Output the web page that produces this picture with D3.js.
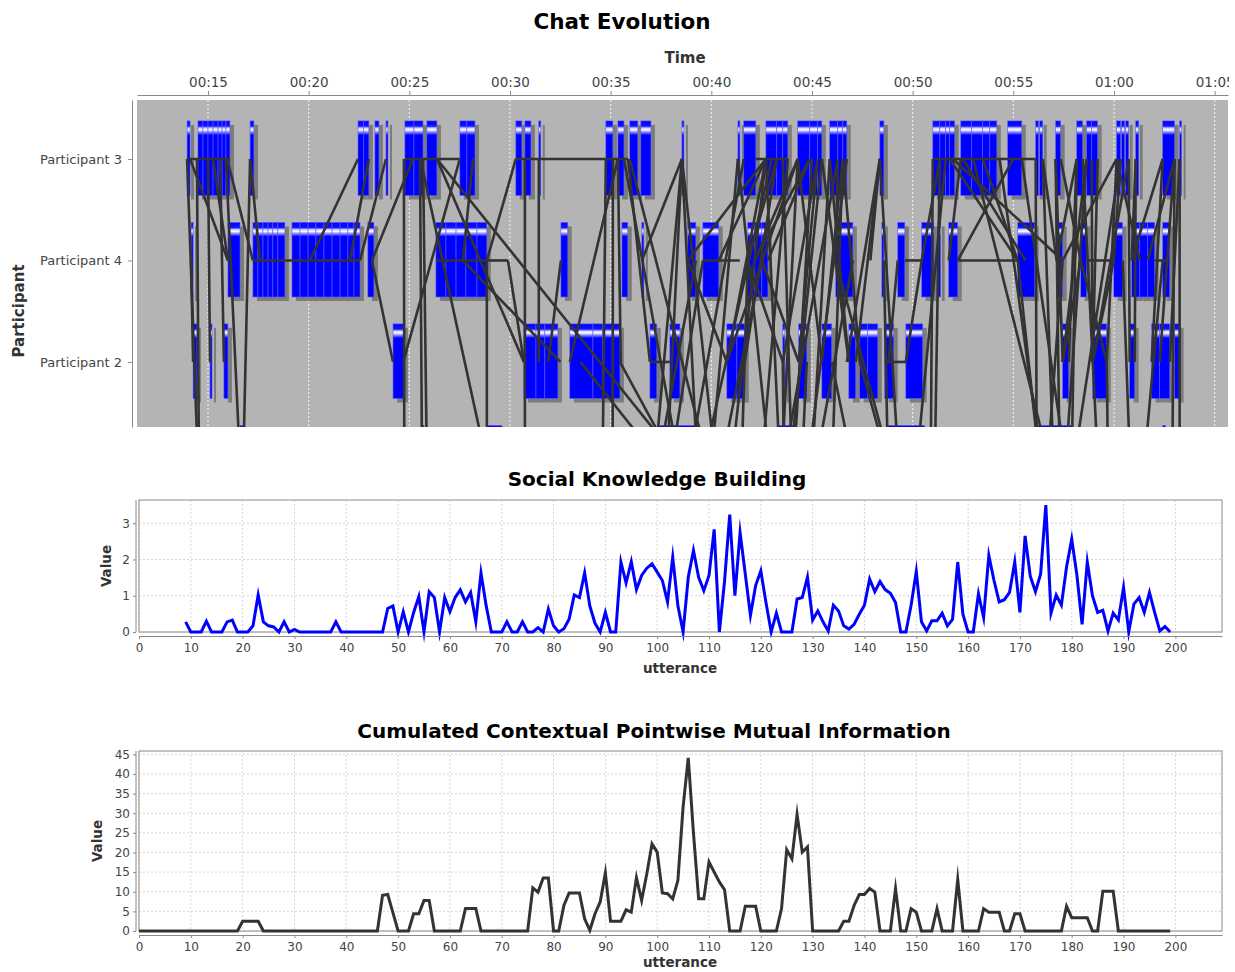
<!DOCTYPE html>
<html><head><meta charset="utf-8">
<script src="https://cdn.jsdelivr.net/npm/d3@7"></script>
<style>body{margin:0;background:#fff;overflow:hidden}</style>
</head><body><svg id="c" width="1235" height="972"></svg>
<script>
// ---------------- DATA ----------------
const participants = ["Participant 3","Participant 4","Participant 2","Participant 1"];
const participantIds = [3,4,2,1];
const timeTicks = [15,20,25,30,35,40,45,50,55,60,65]; // minutes

// utterance intervals [start, end] in minutes
const barsP3 = [[13.96,14.11],[14.50,14.75],[14.75,15.00],[15.00,15.25],[15.25,15.50],[15.50,15.70],[15.70,15.89],[15.89,16.09],
 [17.09,17.28],[22.45,22.72],[22.72,22.99],[23.29,23.49],[23.84,23.89],[24.78,25.23],[25.23,25.68],[25.87,26.37],
 [27.51,27.86],[27.86,28.26],[30.29,30.59],[30.74,31.04],[31.43,31.49],[34.76,35.11],[35.36,35.66],[35.95,36.35],
 [36.50,37.00],[38.54,38.63],[41.32,41.42],[41.61,42.21],[42.71,43.25],[43.25,43.55],[43.55,43.80],[44.29,44.89],
 [44.89,45.28],[45.28,45.49],[45.88,46.28],[46.28,46.53],[46.53,46.73],[48.37,48.57],[51.00,51.35],[51.35,51.64],
 [51.64,51.84],[51.84,52.09],[52.39,52.93],[52.93,53.48],[53.48,53.83],[53.83,54.18],[54.72,55.42],[56.11,56.26],
 [56.31,56.46],[57.10,57.35],[58.15,58.44],[58.64,58.89],[58.89,59.19],[60.13,60.33],[60.38,60.53],[60.58,60.73],
 [61.08,61.23],[62.42,63.01],[63.26,63.36]];
const barsP4 = [[14.16,14.26],[15.99,16.59],[17.23,17.48],[17.48,17.73],[17.73,17.98],[17.98,18.22],[18.22,18.47],[18.47,18.82],
 [19.17,19.57],[19.57,19.97],[19.97,20.36],[20.36,20.76],[20.76,21.16],[21.16,21.56],[21.56,21.95],[21.95,22.25],[22.25,22.55],
 [22.94,23.24],[26.32,26.82],[26.82,27.32],[27.32,27.81],[27.81,28.36],[28.36,28.85],[32.53,32.87],[35.56,35.85],
 [36.55,36.65],[38.83,39.23],[39.58,40.37],[41.81,42.16],[42.16,42.51],[42.51,42.81],[46.18,47.03],[48.47,48.57],
 [49.26,49.61],[50.45,51.05],[51.25,51.39],[51.79,52.24],[55.22,56.06],[57.15,57.45],[58.35,58.64],[59.99,60.43],
 [60.88,61.28],[61.28,61.67],[61.67,62.02],[62.42,62.77]];
const barsP2 = [[14.26,14.45],[15.10,15.20],[15.79,15.99],[24.19,24.73],[30.69,31.29],[31.29,31.73],[31.73,32.38],
 [32.97,34.12],[34.12,34.61],[34.61,35.46],[36.95,37.29],[37.94,38.44],[40.77,41.27],[41.27,41.66],[43.55,43.65],
 [44.34,44.74],[45.49,45.98],[46.83,47.17],[47.37,47.77],[47.77,48.27],[48.61,49.06],[49.66,50.50],[57.45,57.75],
 [58.94,59.64],[60.78,61.03],[61.87,62.27],[62.27,62.77],[63.01,63.26]];
const barsP1 = [[16.59,16.84],[25.63,25.73],[28.85,29.60],[37.34,39.43],[43.30,44.15],[48.76,50.60],[56.16,57.95],[62.42,62.57]];

// reply links [fromTime, fromParticipant, toTime, toParticipant]
const links = [
 [13.96,3,16.09,3],[13.96,3,14.50,1],[14.11,3,15.99,4],[14.45,3,14.55,1],[14.16,4,14.26,2],[15.00,3,15.10,2],
 [15.25,3,15.99,4],[15.60,3,15.79,2],[15.89,3,16.59,1],[15.95,3,17.23,4],[17.09,3,17.58,4],[17.09,3,16.75,1],
 [17.23,4,22.55,4],[20.06,4,22.45,3],[22.05,4,22.99,3],[22.55,4,23.84,3],[23.14,4,25.18,3],[23.14,4,24.19,2],
 [24.70,2,27.51,3],[24.78,3,27.51,3],[24.73,3,24.75,1],[25.53,3,25.63,1],[25.68,3,25.87,1],[25.55,3,28.85,1],
 [26.37,3,30.69,2],[26.32,4,28.85,4],[27.66,4,28.16,3],[27.66,4,32.50,2],[28.85,4,28.85,1],[28.85,4,29.90,4],
 [28.85,4,30.29,3],[26.37,3,38.50,1],
 [30.29,3,35.86,3],[29.90,4,30.69,2],[30.74,3,30.74,1],[31.43,3,31.43,2],[32.53,4,31.90,2],[34.76,3,34.60,1],
 [35.11,3,35.10,1],[35.36,3,35.50,2],[35.66,3,38.40,1],[35.95,3,39.85,1],[35.86,3,36.95,2],[36.95,2,37.94,2],
 [38.54,3,37.20,1],[38.54,3,37.80,1],[38.54,3,39.30,1],[38.54,3,40.20,1],[39.58,4,41.41,4],[42.21,3,43.80,3],
 [38.83,4,40.77,2],[39.23,4,37.35,1],[40.77,2,42.71,3],[41.32,3,40.00,1],[41.61,3,38.90,1],[41.81,4,43.55,2],
 [42.16,4,44.29,3],[42.71,3,41.00,1],[42.71,3,43.40,1],[43.00,3,39.60,1],[43.25,3,41.81,4],[43.55,3,44.00,1],
 [43.55,2,45.28,3],[44.29,3,43.50,1],[44.29,3,45.49,2],[44.34,2,42.51,4],[44.89,3,42.16,4],[45.00,3,44.10,1],
 [45.28,3,44.34,2],[45.49,3,46.83,2],[45.49,2,46.53,3],[45.88,3,45.00,1],[46.28,3,43.60,1],[46.28,3,46.18,4],
 [46.53,3,47.37,2],[46.18,4,48.90,1],[46.83,2,45.88,3],[47.37,2,48.77,1],[48.37,3,46.73,2],[48.37,3,47.90,4],
 [48.37,3,49.30,1],
 [39.58,4,38.00,1],[40.37,4,42.71,3],[41.66,2,43.25,3],[41.32,3,42.90,1],[42.51,4,40.50,1],[42.81,4,44.89,3],
 [43.80,3,42.50,1],[44.74,2,44.50,1],[45.49,3,43.90,1],[45.98,2,47.00,1],[46.73,3,44.80,1],[46.53,3,46.00,1],
 [47.03,4,45.20,1],[47.17,2,48.37,3],[44.29,3,40.77,2],[43.55,2,43.60,1],[41.81,4,41.50,1],[42.71,3,38.83,4],
 [33.50,2,37.50,1],[35.46,2,38.20,1],[32.97,2,35.36,3],[36.55,4,38.54,3],
 [49.61,4,50.45,4],[48.61,2,49.66,2],[48.57,4,48.77,1],[49.26,4,48.80,2],[50.45,4,49.66,2],[51.00,3,56.11,3],
 [51.00,3,50.90,1],[51.35,3,51.10,1],[51.64,3,50.20,1],[50.45,4,51.35,3],[51.79,4,52.39,3],[51.84,3,55.22,4],
 [52.00,3,57.45,4],[52.24,4,55.22,4],[53.48,3,55.22,4],[54.32,3,56.40,1],[55.22,4,56.30,1],[56.11,3,56.16,1],
 [56.46,3,57.00,1],[57.10,3,57.45,2],[57.10,3,57.30,1],[57.15,4,58.15,3],[57.45,2,58.64,3],[58.15,3,57.90,1],
 [58.35,4,59.64,2],[58.64,3,57.60,1],[58.89,3,58.94,2],[58.35,4,57.45,2],[58.64,4,59.99,4],[60.13,3,57.45,4],
 [60.33,3,59.99,4],[60.33,3,58.00,1],[60.73,3,60.78,2],[61.08,3,60.88,4],[60.88,4,62.42,3],[62.42,3,61.87,2],
 [62.02,4,62.77,4],[63.01,3,62.90,1],[63.26,3,63.26,1],[62.27,2,63.01,3],[59.64,2,60.13,3],
 [57.35,3,58.35,4],[57.75,2,58.15,3],[58.44,3,59.20,1],[59.19,3,58.94,2],[59.64,2,59.70,1],[60.43,4,60.80,1],
 [61.03,2,61.08,3],[61.28,4,60.13,3],[61.67,4,63.01,3],[62.77,2,63.26,3],[62.42,4,61.50,1],[59.99,4,58.94,2],
 [58.94,2,60.73,3],[56.46,3,57.15,4],[57.45,4,56.70,1],[55.42,3,57.60,1],[55.00,3,52.24,4],[53.00,3,56.80,1],
 [52.50,3,55.60,4]];

// Social Knowledge Building, utterances 9..199
const skbFirstUtterance = 9;
const skbValues = [0.28,0,0,0,0.3,0,0,0,0.28,0.33,0,0,0,0.17,1.02,0.28,0.17,0.14,0,0.28,0,0.07,
 0,0,0,0,0,0,0,0.28,0,0,0,0,0,0,0,0,0,0.65,0.72,0,0.56,0,0.54,0.98,0,1.11,0.95,0,0.95,0.56,0.95,1.16,0.83,1.09,
 0.28,1.63,0.72,0,0,0,0.28,0,0,0.28,0,0,0.12,0,0.63,0.17,0,0.09,0.35,1.02,0.95,1.63,0.72,0.24,0,0.54,0,0,
 1.93,1.35,1.94,1.17,1.56,1.76,1.88,1.65,1.42,0.83,2.06,0.72,0,1.51,2.25,1.51,1.14,1.56,2.83,0,1.4,3.24,1.0,
 2.74,1.6,0.46,1.28,1.69,0.81,0,0.52,0,0,0,0.91,0.95,1.51,0.33,0.58,0.28,0.03,0.74,0.58,0.17,0.08,0.21,0.49,
 0.74,1.46,1.11,1.39,1.17,1.07,0.81,0,0,0.74,1.67,0.28,0.03,0.31,0.31,0.52,0.17,0.35,1.93,0.49,0,0,1.05,0.4,
 2.11,1.42,0.83,0.89,1.09,1.93,0.54,2.65,1.54,1.11,1.6,3.5,0.52,1.02,0.74,1.79,2.56,1.57,0.21,1.93,1.0,0.54,
 0.6,0.03,0.52,0.33,1.23,0,0.77,0.95,0.54,1.09,0.54,0.03,0.15,0];
const skbYTicks = [0,1,2,3];

// Cumulated Contextual PMI, utterances 0..199
const cpmiFirstUtterance = 0;
const cpmiValues = [0,0,0,0,0,0,0,0,0,0,0,0,0,0,0,0,0,0,0,0,
 2.5,2.5,2.5,2.5,0,0,0,0,0,0,0,0,0,0,0,0,0,0,0,0,0,0,0,0,0,0,0,
 9.1,9.3,4.7,0,0,0,4.4,4.4,7.8,7.8,0,0,0,0,0,0,5.7,5.7,5.7,0,0,0,0,0,0,0,0,0,0,
 11.0,9.9,13.5,13.5,0,0,6.5,9.7,9.7,9.7,3.1,0.2,4.4,7.4,14.8,2.5,2.5,2.5,5.4,4.8,13.6,7.8,14.6,22.2,
 20.1,9.7,9.5,8.2,12.9,31.6,44.1,25.0,8.2,8.2,17.6,15.0,12.5,10.5,0,0,0,6.3,6.3,6.3,0,0,0,0,5.7,
 20.7,18.4,29.7,20.1,21.4,0,0,0,0,0,0,2.5,2.5,6.5,9.3,9.3,10.8,9.9,0,0,0,10.8,0,0,5.7,4.8,0,0,0,
 5.7,0,0,0,13.1,0,0,0,0,5.7,4.8,4.8,4.8,0,0,4.4,4.4,0,0,0,0,0,0,0,0,6.3,3.4,3.4,3.4,3.4,0,0,
 10.1,10.1,10.1,0,0,0,0,0,0,0,0,0,0,0];
const cpmiYTicks = [0,5,10,15,20,25,30,35,40,45];
const utteranceTicks = [0,10,20,30,40,50,60,70,80,90,100,110,120,130,140,150,160,170,180,190,200];

// ---------------- DRAW ----------------
const FONT = '"DejaVu Sans", Verdana, sans-serif';
const svg = d3.select("#c").style("font-family", FONT);
const defs = svg.append("defs");
const grad = defs.append("linearGradient").attr("id","barGrad").attr("x1",0).attr("y1",0).attr("x2",0).attr("y2",1);
[[0,"#0000ff"],[0.07,"#1414ff"],[0.095,"#c8c8ff"],[0.12,"#ffffff"],[0.15,"#8c8cff"],[0.19,"#0000ff"],[1,"#0000ff"]]
  .forEach(([o,c]) => grad.append("stop").attr("offset",o).attr("stop-color",c));
defs.append("clipPath").attr("id","clipTop").append("rect").attr("x",137).attr("y",100).attr("width",1091).attr("height",327);
defs.append("clipPath").attr("id","clipTopAxis").append("rect").attr("x",0).attr("y",0).attr("width",1229).attr("height",100);

function styleAxis(g, size){
  g.select(".domain").attr("stroke","#8a8a8a");
  g.selectAll(".tick line").attr("stroke","#8a8a8a");
  g.selectAll(".tick text").attr("fill","#444").style("font-size", size+"px").style("font-family", FONT);
}
const fmtTime = t => { const h=Math.floor(t/60), m=t%60; return String(h).padStart(2,"0")+":"+String(m).padStart(2,"0"); };

// ---- Chat Evolution ----
svg.append("text").attr("x",622).attr("y",29).attr("text-anchor","middle")
  .style("font-size","21.5px").style("font-weight","bold").text("Chat Evolution");

const xT = d3.scaleLinear().domain([11.473, 65.663]).range([137, 1228]);
const yT = d3.scaleLinear().domain([-0.581, 2.641]).range([100, 427]);
const rowOf = p => participantIds.indexOf(p);

svg.append("rect").attr("x",137).attr("y",100).attr("width",1091).attr("height",327).attr("fill","#b4b4b4");
svg.append("g").selectAll("line").data(timeTicks).join("line")
  .attr("x1",d=>xT(d)).attr("x2",d=>xT(d)).attr("y1",100).attr("y2",427)
  .attr("stroke","#f4f4f4").attr("stroke-width",1).attr("stroke-dasharray","2,2");

const plotT = svg.append("g").attr("clip-path","url(#clipTop)");
const barSets = [[3,barsP3],[4,barsP4],[2,barsP2],[1,barsP1]];
const barRows = barSets.flatMap(([p,arr]) => arr.map(b => ({p, s:b[0], e:b[1]})));
const bh = yT(0.36) - yT(-0.375);
plotT.append("g").selectAll("rect").data(barRows).join("rect")
  .attr("x",d=>xT(d.s)+4).attr("y",d=>yT(rowOf(d.p)-0.375)+4)
  .attr("width",d=>Math.max(2,xT(d.e)-xT(d.s))).attr("height",bh).attr("fill","#7c7c7c");
plotT.append("g").selectAll("rect").data(barRows).join("rect")
  .attr("x",d=>xT(d.s)).attr("y",d=>yT(rowOf(d.p)-0.375))
  .attr("width",d=>Math.max(2,xT(d.e)-xT(d.s))).attr("height",bh).attr("fill","url(#barGrad)")
  .attr("stroke","#5c5cff").attr("stroke-width",0.6);
plotT.append("g").selectAll("line").data(links).join("line")
  .attr("x1",d=>xT(d[0])).attr("y1",d=>yT(rowOf(d[1])))
  .attr("x2",d=>xT(d[2])).attr("y2",d=>yT(rowOf(d[3])))
  .attr("stroke","#333").attr("stroke-width",2.6);

const axTop = svg.append("g").attr("clip-path","url(#clipTopAxis)").append("g").attr("transform","translate(0,95)")
  .call(d3.axisTop(xT).tickValues(timeTicks).tickFormat(fmtTime).tickSize(4).tickSizeOuter(0).tickPadding(4));
styleAxis(axTop, 13.5);
const axLeftT = svg.append("g").attr("transform","translate(132,0)")
  .call(d3.axisLeft(yT).tickValues([0,1,2]).tickFormat(i=>participants[i]).tickSize(4).tickSizeOuter(0).tickPadding(6));
styleAxis(axLeftT, 13);
svg.append("text").attr("x",685).attr("y",63).attr("text-anchor","middle")
  .style("font-size","15px").style("font-weight","bold").attr("fill","#333").text("Time");
svg.append("text").attr("transform","translate(24,311) rotate(-90)").attr("text-anchor","middle")
  .style("font-size","15px").style("font-weight","bold").attr("fill","#333").text("Participant");

// ---- line charts ----
function lineChart(o){
  const x = d3.scaleLinear().domain([0,209]).range([139,1222]);
  const y = d3.scaleLinear().domain([0,o.yMax]).range([o.bottom,o.top]);
  svg.append("text").attr("x",o.titleX).attr("y",o.titleY).attr("text-anchor","middle")
    .style("font-size","20px").style("font-weight","bold").text(o.title);
  svg.append("rect").attr("x",139).attr("y",o.top).attr("width",1222-139).attr("height",o.bottom-o.top).attr("fill","#fff");
  const g = svg.append("g");
  g.selectAll("line.v").data(utteranceTicks).join("line").attr("class","v")
    .attr("x1",d=>x(d)).attr("x2",d=>x(d)).attr("y1",o.top).attr("y2",o.bottom)
    .attr("stroke","#d6d6d6").attr("stroke-dasharray","2,2");
  g.selectAll("line.h").data(o.yTicks).join("line").attr("class","h")
    .attr("x1",139).attr("x2",1222).attr("y1",d=>y(d)).attr("y2",d=>y(d))
    .attr("stroke","#d6d6d6").attr("stroke-dasharray","2,2");
  svg.append("rect").attr("x",139).attr("y",o.top).attr("width",1222-139).attr("height",o.bottom-o.top)
    .attr("fill","none").attr("stroke","#8a8a8a");
  const pts = o.values.map((v,i)=>[o.first+i, v]);
  svg.append("path").datum(pts).attr("fill","none").attr("stroke",o.color).attr("stroke-width",3)
    .attr("stroke-linejoin","miter").attr("stroke-miterlimit",10)
    .attr("d", d3.line().x(d=>x(d[0])).y(d=>y(d[1])));
  const ax = svg.append("g").attr("transform",`translate(0,${o.bottom+4})`)
    .call(d3.axisBottom(x).tickValues(utteranceTicks).tickSize(3).tickSizeOuter(0).tickPadding(4));
  styleAxis(ax, 12);
  const ay = svg.append("g").attr("transform","translate(136,0)")
    .call(d3.axisLeft(y).tickValues(o.yTicks).tickFormat(d3.format("d")).tickSize(3).tickSizeOuter(0).tickPadding(3));
  styleAxis(ay, 12);
  ay.select(".domain").attr("d",`M-0,${o.bottom}V${o.top}`);
  svg.append("text").attr("x",680).attr("y",o.bottom+o.labelOff).attr("text-anchor","middle")
    .style("font-size","13.5px").style("font-weight","bold").attr("fill","#333").text("utterance");
  svg.append("text").attr("transform",`translate(${o.valueX+5},${(o.top+o.bottom)/2}) rotate(-90)`).attr("text-anchor","middle")
    .style("font-size","13.5px").style("font-weight","bold").attr("fill","#333").text("Value");
}
lineChart({title:"Social Knowledge Building", titleX:657, titleY:486, top:500, bottom:632, yMax:3.64, labelOff:41,
  yTicks:skbYTicks, values:skbValues, first:skbFirstUtterance, color:"#0000ff", valueX:106});
lineChart({title:"Cumulated Contextual Pointwise Mutual Information", titleX:654, titleY:738, top:751, bottom:931, yMax:45.85, labelOff:36,
  yTicks:cpmiYTicks, values:cpmiValues, first:cpmiFirstUtterance, color:"#333333", valueX:97});
</script></body></html>
